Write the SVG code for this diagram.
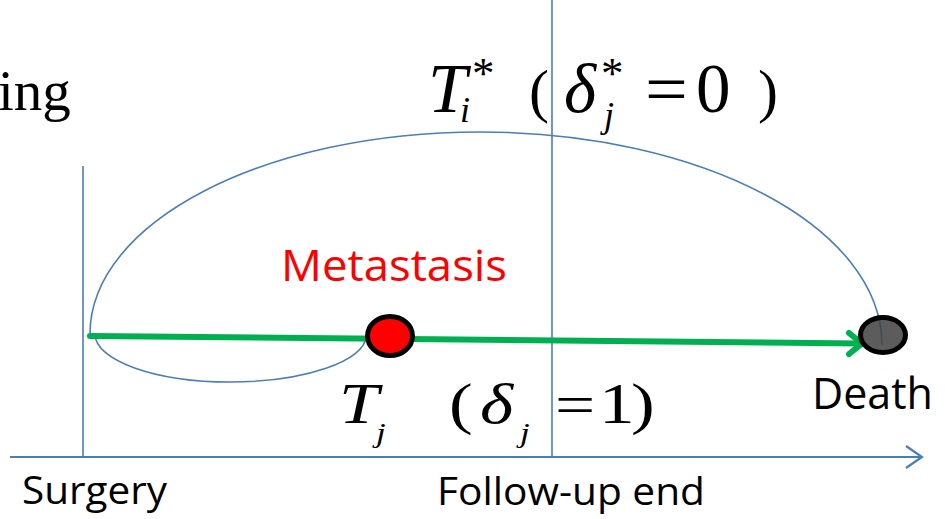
<svg xmlns="http://www.w3.org/2000/svg" width="945" height="519" viewBox="0 0 945 519">
<style>
.blue{fill:none;stroke:#4A7EBB;stroke-width:1.6}
.axis{fill:none;stroke:#4A7EBB;stroke-width:2.2}
.green{fill:none;stroke:#00B050;stroke-width:6;stroke-linecap:round;stroke-linejoin:round}
.sans{font-family:"Open Sans","Liberation Sans",sans-serif}
.m{font-family:"Liberation Serif","Times New Roman",serif;fill:#000}
.mi{font-family:"Liberation Serif","Times New Roman",serif;font-style:italic;fill:#000}
</style>
<rect width="945" height="519" fill="#fff"/>
<g id="connectors">
  <line class="blue" x1="83" y1="166" x2="83" y2="457"/>
  <line class="blue" x1="552" y1="0" x2="552" y2="457"/>
  <line class="axis" x1="10" y1="457" x2="922" y2="457"/>
  <polyline class="axis" points="906,446 922,457 906,468"/>
  <path class="blue" d="M90,334 C90,222 264.6,132 480,132 C702,132 882,227 882,345"/>
  <path class="blue" d="M95,334 C95,360.5 155.4,382 230,382 C304.6,382 366,360.5 366,336"/>
  <line class="green" x1="90" y1="336" x2="861" y2="343.5"/>
  <polyline class="green" points="849,333 862,343.5 849,354"/>
</g>
<g id="label-ing">
  <text class="m" x="-2" y="110" font-size="57">ing</text>
</g>
<g id="eq-censored">
  <text class="mi" transform="translate(428,112)" font-size="70">T</text>
  <text class="m" transform="translate(472,88)" font-size="45">*</text>
  <text class="mi" transform="translate(460,122)" font-size="36">i</text>
  <text class="m" transform="translate(529,111)" font-size="60">(</text>
  <text class="mi" transform="translate(564,112)" font-size="69">δ</text>
  <text class="m" transform="translate(601,88)" font-size="45">*</text>
  <text class="mi" transform="translate(604,127)" font-size="36">j</text>
  <text class="m" transform="translate(645,113) scale(1.1,1)" font-size="69">=</text>
  <text class="m" transform="translate(696,112)" font-size="69">0</text>
  <text class="m" transform="translate(758,111)" font-size="60">)</text>
</g>
<g id="eq-event">
  <text class="mi" transform="matrix(1.25 0 0 1 339 423)" font-size="57">T</text>
  <text class="mi" transform="matrix(1.25 0 0 1 376 442)" font-size="28">j</text>
  <text class="m" transform="matrix(1.25 0 0 1 449 423)" font-size="57">(</text>
  <text class="mi" transform="matrix(1.25 0 0 1 480 423)" font-size="57">δ</text>
  <text class="mi" transform="matrix(1.25 0 0 1 520 442)" font-size="28">j</text>
  <text class="m" transform="matrix(1.25 0 0 1 555 424)" font-size="57">=</text>
  <text class="m" transform="matrix(1.25 0 0 1 599 423)" font-size="57">1</text>
  <text class="m" transform="matrix(1.25 0 0 1 631 423)" font-size="57">)</text>
</g>
<g id="node-metastasis">
  <ellipse cx="390" cy="336" rx="22.5" ry="19.5" fill="#FF0000" stroke="#000" stroke-width="5"/>
  <text class="sans" x="281" y="281" font-size="44" fill="#FF0000" textLength="226" lengthAdjust="spacingAndGlyphs">Metastasis</text>
</g>
<g id="node-death">
  <ellipse cx="883" cy="335" rx="22.5" ry="17.5" fill="#404040" fill-opacity="0.85" stroke="#000" stroke-width="5"/>
  <text class="sans" x="812" y="409" font-size="44" fill="#000" textLength="121" lengthAdjust="spacingAndGlyphs">Death</text>
</g>
<g id="node-surgery">
  <text class="sans" x="22" y="504" font-size="38" fill="#000" textLength="145" lengthAdjust="spacingAndGlyphs">Surgery</text>
</g>
<g id="node-followup">
  <text class="sans" x="437" y="505" font-size="38" fill="#000" textLength="268" lengthAdjust="spacingAndGlyphs">Follow-up end</text>
</g>
</svg>
